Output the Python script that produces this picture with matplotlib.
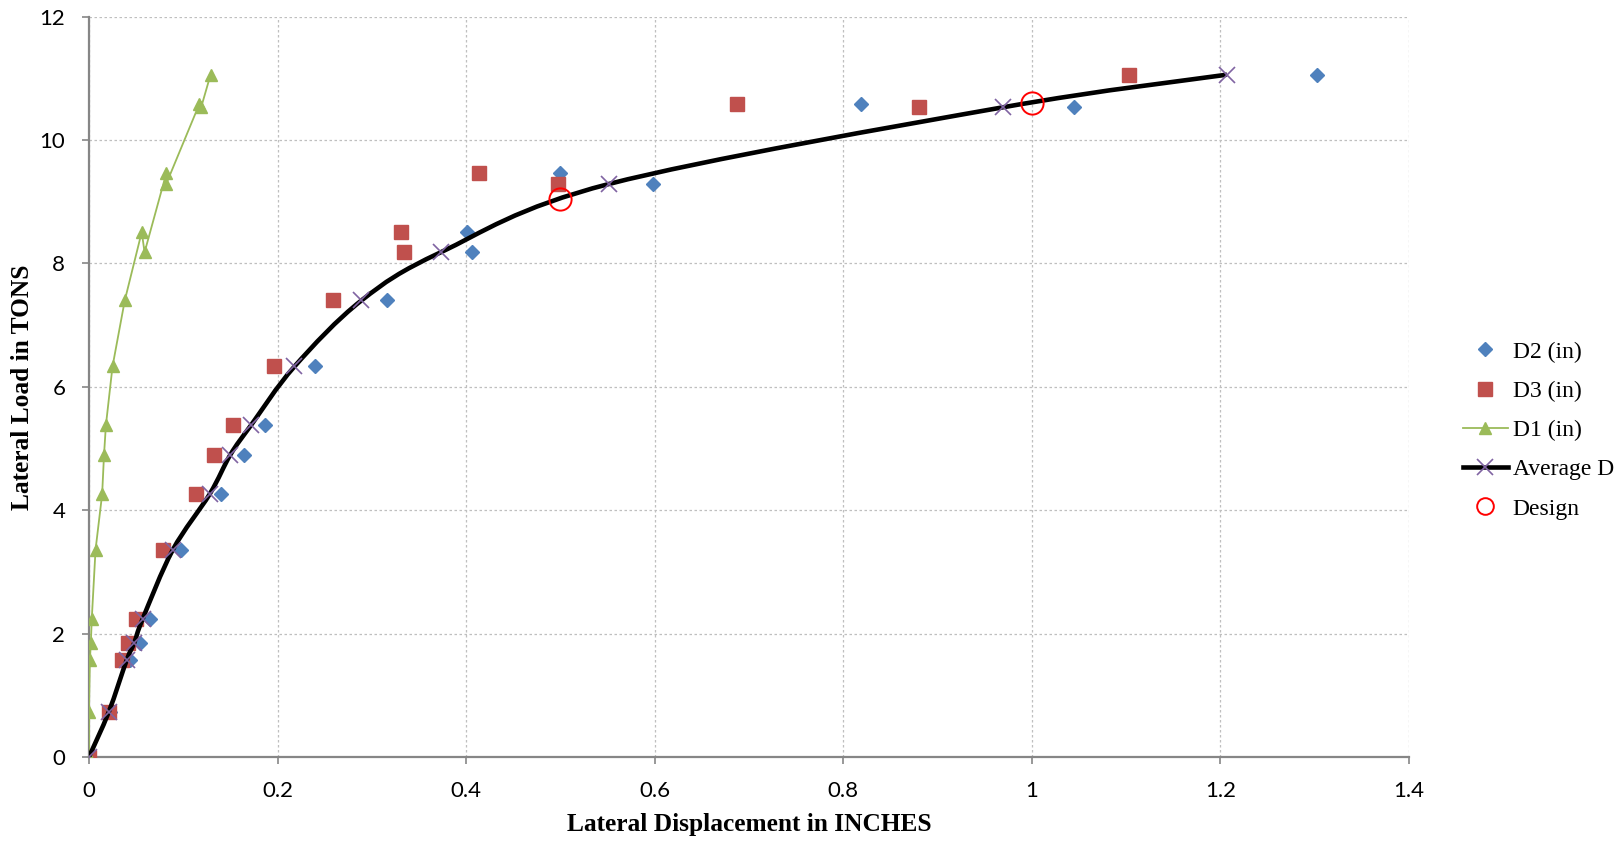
import matplotlib
matplotlib.use("Agg")
import matplotlib.pyplot as plt
from matplotlib.path import Path
from matplotlib.patches import PathPatch
from matplotlib.lines import Line2D
import numpy as np

plt.rcParams['font.family'] = ['Liberation Serif', 'DejaVu Serif']

# lateral load (tons), test order
load = [0, 0.73, 1.57, 1.85, 2.24, 3.36, 4.26, 4.9, 5.38, 6.33, 7.4,
        8.51, 8.18, 9.46, 9.29, 10.58, 10.53, 11.06]
d2 = [0, 0.022, 0.044, 0.054, 0.065, 0.098, 0.140, 0.164, 0.187, 0.240, 0.316,
      0.401, 0.406, 0.500, 0.598, 0.819, 1.045, 1.302]
d3 = [0, 0.021, 0.035, 0.041, 0.050, 0.079, 0.114, 0.133, 0.153, 0.196, 0.259,
      0.331, 0.334, 0.414, 0.498, 0.687, 0.880, 1.103]
d1 = [0, 0, 0.001, 0.002, 0.003, 0.007, 0.014, 0.016, 0.018, 0.025, 0.038,
      0.056, 0.059, 0.082, 0.082, 0.117, 0.119, 0.129]

# average curve (envelope points)
avg_load = [0, 0.73, 1.57, 1.85, 2.24, 3.36, 4.26, 4.9, 5.38, 6.33, 7.4,
            8.18, 9.29, 10.53, 11.06]
avg_d = [0, 0.021, 0.040, 0.048, 0.057, 0.089, 0.128, 0.150, 0.172, 0.218,
         0.289, 0.373, 0.552, 0.969, 1.207]

design_d = [0.5, 1.0]
design_load = [9.05, 10.6]

xticks = [0, 0.2, 0.4, 0.6, 0.8, 1.0, 1.2, 1.4]
xticklabels = ['0', '0.2', '0.4', '0.6', '0.8', '1', '1.2', '1.4']
yticks = [0, 2, 4, 6, 8, 10, 12]


def smooth_path(x, y):
    # Excel-style smoothed line: cubic bezier, catmull-rom tangents
    p = np.column_stack([x, y]).astype(float)
    n = len(p)
    verts = [p[0]]
    codes = [Path.MOVETO]
    for i in range(n - 1):
        p0 = p[i - 1] if i > 0 else p[i]
        p3 = p[i + 2] if i + 2 < n else p[i + 1]
        c1 = p[i] + (p[i + 1] - p0) / 6.0
        c2 = p[i + 1] - (p3 - p[i]) / 6.0
        verts += [c1, c2, p[i + 1]]
        codes += [Path.CURVE4] * 3
    return Path(verts, codes)


fig = plt.figure(figsize=(16.23, 8.42), dpi=100)
ax = fig.add_axes([0.0548, 0.1009, 0.8133, 0.8793])

c_d2 = '#4F81BD'
c_d3 = '#C0504D'
c_d1 = '#9BBB59'
c_avg = '#8064A2'

ax.plot(d2, load, ls='none', marker='D', ms=7.5, color=c_d2, zorder=3)
ax.plot(d3, load, ls='none', marker='s', ms=9.5, color=c_d3, zorder=4)
ax.plot(d1, load, ls='-', lw=1.3, marker='^', ms=9, color=c_d1, zorder=5)
ax.add_patch(PathPatch(smooth_path(avg_d, avg_load), facecolor='none',
                       edgecolor='black', lw=3.3, zorder=6))
ax.plot(avg_d, avg_load, ls='none', marker='x', ms=12, mew=1.2, color=c_avg, zorder=7)
ax.plot(design_d, design_load, ls='none', marker='o', ms=16, mfc='none',
        mec='red', mew=1.4, zorder=8)

ax.set_xlim(0, 1.4)
ax.set_ylim(0, 12)
ax.set_xticks(xticks)
ax.set_xticklabels(xticklabels)
ax.set_yticks(yticks)
for lab in ax.get_xticklabels() + ax.get_yticklabels():
    lab.set_family(['Lato', 'DejaVu Sans'])
ax.grid(True, color='#BFBFBF', ls=(0, (2, 2)), lw=0.9)
ax.set_axisbelow(True)
for s in ['top', 'right']:
    ax.spines[s].set_visible(False)
for s in ['left', 'bottom']:
    ax.spines[s].set_color('#868686')
    ax.spines[s].set_linewidth(1.6)
ax.tick_params(axis='both', direction='out', length=5, width=1.2, color='#868686',
               labelsize=16, pad=12)
ax.set_xlabel('Lateral Displacement in INCHES', fontsize=18.3, fontweight='bold', va='center')
ax.set_ylabel('Lateral Load in TONS', fontsize=18.3, fontweight='bold', va='center')
ax.xaxis.set_label_coords(0.5, -0.0905)
ax.yaxis.set_label_coords(-0.05, 0.5)

handles = [
    Line2D([], [], ls='none', marker='D', ms=7.5, color=c_d2),
    Line2D([], [], ls='none', marker='s', ms=9.5, color=c_d3),
    Line2D([], [], ls='-', lw=1.3, marker='^', ms=9, color=c_d1),
    Line2D([], [], ls='-', lw=3.3, color='black', marker='x', ms=12, mew=1.2, mec=c_avg),
    Line2D([], [], ls='none', marker='o', ms=12, mfc='none', mec='red', mew=1.4),
]
labels = ['D2 (in)', 'D3 (in)', 'D1 (in)', 'Average D', 'Design']
fig.legend(handles, labels, loc='upper left', bbox_to_anchor=(0.8956, 0.606),
           frameon=False, fontsize=17, handlelength=1.9, handletextpad=0.2,
           labelspacing=0.75, borderaxespad=0)

fig.savefig('out.png', dpi=100)
